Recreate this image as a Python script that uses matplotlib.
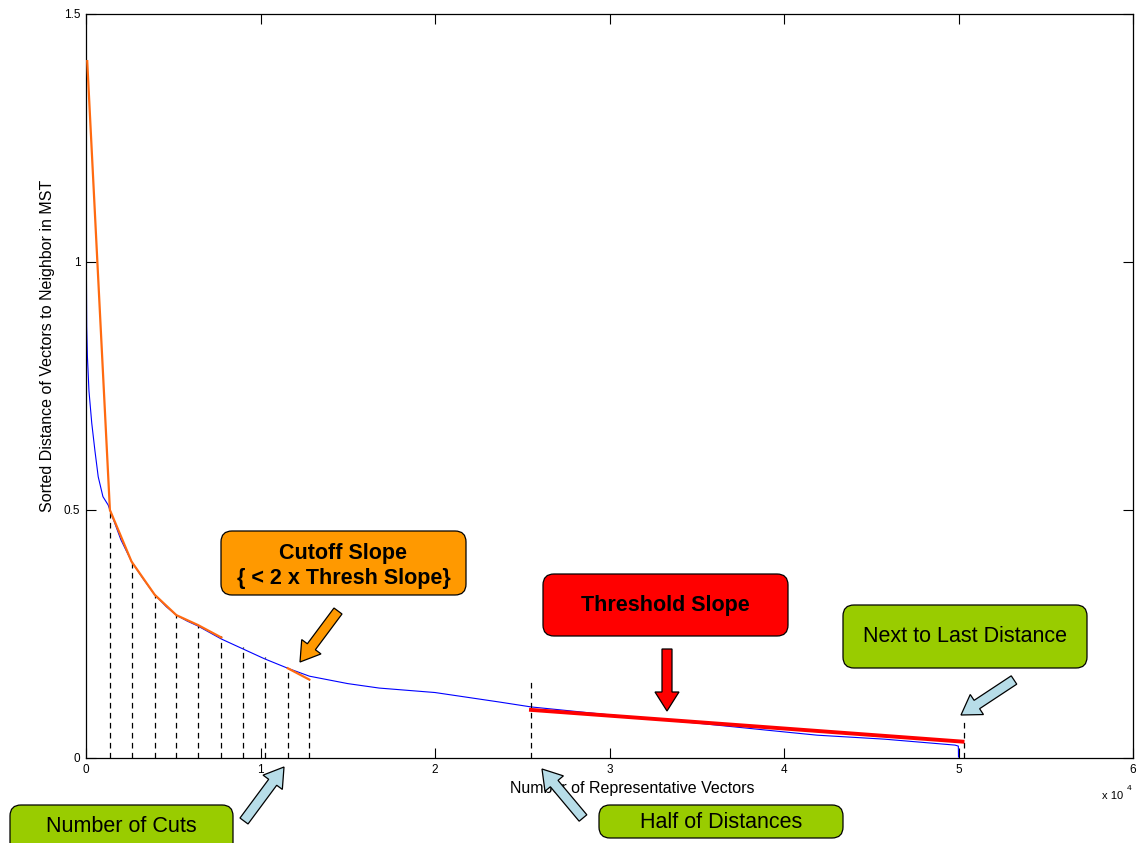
import numpy as np
import matplotlib.pyplot as plt
from matplotlib.patches import FancyBboxPatch, FancyArrow

plt.rcParams['font.family'] = ['Liberation Sans', 'DejaVu Sans']

# sorted nearest-neighbour distances along the MST (x in number of vectors)
curve_x = [0, 20, 40, 80, 170, 330, 510, 700, 970, 1270, 1370, 2000, 2610, 3300,
           3940, 4600, 5180, 5800, 6420, 7750, 8990, 10230, 11560, 12800, 15000,
           16800, 20000, 23660, 25500, 30000, 35100, 39900, 41900, 45750, 49800,
           49990, 50000]
curve_y = [1.407, 1.0, 0.87, 0.81, 0.74, 0.675, 0.62, 0.567, 0.527, 0.51, 0.50,
           0.44, 0.396, 0.36, 0.329, 0.305, 0.288, 0.276, 0.266, 0.240, 0.220,
           0.200, 0.181, 0.165, 0.150, 0.141, 0.132, 0.113, 0.103, 0.087, 0.070,
           0.053, 0.046, 0.038, 0.026, 0.024, 0.002]

# cut positions and the height of their dashed markers
cut_x = [1370, 2610, 3940, 5180, 6420, 7750, 8990, 10230, 11560, 12800]
cut_top = [0.50, 0.396, 0.329, 0.288, 0.266, 0.245, 0.224, 0.203, 0.181, 0.159]

# piecewise slope fits between cuts
fit_x = [70, 1370, 2610, 3940, 5180, 6420, 7750]
fit_y = [1.405, 0.50, 0.396, 0.329, 0.288, 0.268, 0.243]
cutoff_x = [11560, 12800]
cutoff_y = [0.181, 0.158]

# threshold slope over the second half of the distances
thresh_x = [25500, 50230]
thresh_y = [0.097, 0.033]

half_x, half_top = 25500, 0.161
last_x, last_top = 50300, 0.080

xticks = [0, 10000, 20000, 30000, 40000, 50000, 60000]
xtick_labels = ['0', '1', '2', '3', '4', '5', '6']
yticks = [0, 0.5, 1, 1.5]
ytick_labels = ['0', '0.5', '1', '1.5']

W, H = 1138, 843
fig = plt.figure(figsize=(W / 100, H / 100), dpi=100)
ax = fig.add_axes([86 / W, (H - 758) / H, (1133 - 86) / W, (758 - 14) / H])

dash = (0, (4.5, 3.5))
ax.plot(curve_x, curve_y, color='#0000ff', lw=0.8, zorder=2)
ax.vlines(cut_x, 0, cut_top, colors='black', lw=0.9, linestyles=dash, zorder=3)
ax.vlines([half_x, last_x], 0, [half_top, last_top], colors='black', lw=0.9,
          linestyles=dash, zorder=3)
ax.plot(fit_x, fit_y, color='#ff6a10', lw=1.6, zorder=4)
ax.plot(cutoff_x, cutoff_y, color='#ff6a10', lw=1.6, zorder=4)
ax.plot(thresh_x, thresh_y, color='#ff0000', lw=2.8, zorder=4)

ax.set_xlim(0, 60000)
ax.set_ylim(0, 1.5)
ax.set_xticks(xticks)
ax.set_xticklabels(xtick_labels)
ax.set_yticks(yticks)
ax.set_yticklabels(ytick_labels)
ax.tick_params(direction='in', length=7, width=0.8, top=True, right=True,
               labelsize=8.5, pad=4)
for s in ax.spines.values():
    s.set_linewidth(0.9)

fig.text(632 / W, 1 - 789 / H, 'Number of Representative Vectors',
         ha='center', va='center', fontsize=11.5)
fig.text(48 / W, 1 - 346 / H, 'Sorted Distance of Vectors to Neighbor in MST',
         ha='center', va='center', rotation=90, fontsize=11.5)
fig.text(1113 / W, 1 - 796 / H, 'x 10', ha='center', va='center', fontsize=8)
fig.text(1129 / W, 1 - 789 / H, '4', ha='center', va='center', fontsize=6)

# overlay in pixel coordinates for callout boxes and block arrows
ov = fig.add_axes([0, 0, 1, 1], zorder=10)
ov.set_xlim(0, W)
ov.set_ylim(H, 0)
ov.axis('off')

boxes = [
    (221, 531, 245, 64, 566, '#ff9900', 'Cutoff Slope\n{ < 2 x Thresh Slope}', 'bold'),
    (543, 574, 245, 62, 606, '#ff0000', 'Threshold Slope', 'bold'),
    (843, 605, 244, 63, 637, '#99cc00', 'Next to Last Distance', 'normal'),
    (10, 805, 223, 60, 827, '#99cc00', 'Number of Cuts', 'normal'),
    (599, 805, 244, 33, 822, '#99cc00', 'Half of Distances', 'normal'),
]
for x0, y0, w, h, ty, fc, txt, wt in boxes:
    ov.add_patch(FancyBboxPatch((x0, y0), w, h,
                                boxstyle='round,pad=0,rounding_size=11',
                                fc=fc, ec='black', lw=0.9))
    ov.text(x0 + w / 2, ty, txt, ha='center', va='center', fontsize=15.5,
            fontweight=wt, linespacing=1.25)

arrows = [
    (338, 611, 300, 662, '#ff9900'),
    (667, 649, 667, 711, '#ff0000'),
    (1014, 680, 961, 715, '#b7dde8'),
    (244, 821, 284, 767, '#b7dde8'),
    (583, 818, 542, 769, '#b7dde8'),
]
for x0, y0, x1, y1, fc in arrows:
    ov.add_patch(FancyArrow(x0, y0, x1 - x0, y1 - y0, width=10, head_width=24,
                            head_length=19, length_includes_head=True,
                            fc=fc, ec='black', lw=0.9))

fig.savefig('out.png', dpi=100)
